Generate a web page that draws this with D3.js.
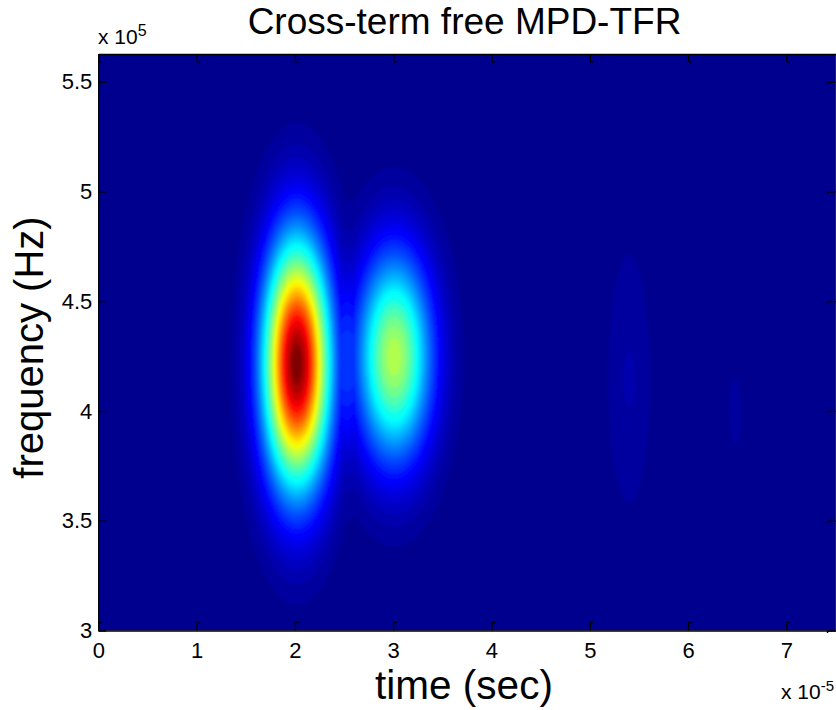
<!DOCTYPE html>
<html>
<head>
<meta charset="utf-8">
<script src="https://cdn.jsdelivr.net/npm/d3@7"></script>
<style>
  body { margin: 0; background: #fff; }
  text { font-family: "Liberation Sans", Arial, sans-serif; fill: #000; }
  .axis path.domain, .axis line, .hook { stroke: #000; stroke-width: 1.4; fill: none; }
  .axis text { font-size: 22px; }
</style>
</head>
<body>
<div id="d3-container"></div>
<script>
/* CONSTANTS AND GLOBALS */
const width = 836,
  height = 710,
  margin = { top: 54, bottom: 79.5, left: 98.3, right: 0.5 };

const xTicks = [0, 1, 2, 3, 4, 5, 6, 7];
const yTicks = [3, 3.5, 4, 4.5, 5, 5.5];

// 64 colour steps of the colormap: each ellipse is the outline of one step
const mainSteps = [1, 2, 3, 4, 5, 6, 7, 8, 9, 10, 11, 12, 13, 14, 15, 16, 17, 18, 19, 20, 21, 22, 23, 24, 26, 28, 30, 32, 34, 36, 38, 40, 42, 44, 46, 48, 50, 52, 54, 56, 58, 60, 62, 63];
const mainHalfFreq = [1.097, 1.002, 0.941, 0.896, 0.859, 0.828, 0.8, 0.776, 0.754, 0.733, 0.714, 0.696, 0.679, 0.663, 0.648, 0.633, 0.619, 0.606, 0.593, 0.58, 0.568, 0.556, 0.544, 0.533, 0.511, 0.489, 0.468, 0.448, 0.428, 0.408, 0.388, 0.369, 0.349, 0.329, 0.309, 0.289, 0.267, 0.245, 0.222, 0.197, 0.169, 0.137, 0.096, 0.068];

const secondSteps = [1, 2, 3, 4, 5, 6, 7, 8, 9, 10, 11, 12, 13, 14, 15, 16, 17, 18, 19, 20, 21, 22, 23, 24, 26, 28, 30, 32, 34];
const secondHalfFreq = [0.864, 0.775, 0.718, 0.675, 0.64, 0.609, 0.582, 0.557, 0.535, 0.514, 0.494, 0.475, 0.457, 0.44, 0.423, 0.406, 0.391, 0.375, 0.359, 0.344, 0.329, 0.314, 0.299, 0.283, 0.252, 0.219, 0.183, 0.141, 0.086];

// the valley between the two big blobs
const valleySteps = [1, 2, 3, 4, 5, 6, 7, 8, 9, 10];
const valleyHalfFreq = [0.733, 0.6, 0.52, 0.46, 0.41, 0.365, 0.32, 0.27, 0.21, 0.14];
const valleyHalfTime = [0.28, 0.25, 0.22, 0.2, 0.18, 0.16, 0.15, 0.14, 0.13, 0.12];

// the faint blobs on the right
const faintSteps = [1, 2];
const faintHalfFreq = [0.565, 0.125];
const faintHalfTime = [0.209, 0.061];
const smallSteps = [1];
const smallHalfFreq = [0.148];
const smallHalfTime = [0.064];

let ellipses = [];
function addBlob(time, freq, steps, halfFreq, halfTime) {
  steps.forEach((s, i) => ellipses.push({ time, freq, step: s, rf: halfFreq[i], rt: halfTime(i) }));
}
addBlob(2.02, 4.214, mainSteps, mainHalfFreq, i => mainHalfFreq[i] * 0.6124);
addBlob(3.01, 4.246, secondSteps, secondHalfFreq, i => secondHalfFreq[i] * 0.82);
addBlob(2.53, 4.228, valleySteps, valleyHalfFreq, i => valleyHalfTime[i]);
addBlob(5.4, 4.146, faintSteps, faintHalfFreq, i => faintHalfTime[i]);
addBlob(6.48, 4.0, smallSteps, smallHalfFreq, i => smallHalfTime[i]);

// low steps go first so higher ones paint on top
ellipses.sort((a, b) => a.step - b.step);

/* SCALES */
const xScale = d3.scaleLinear().domain([0, 7.5]).range([margin.left, width - margin.right]);
const yScale = d3.scaleLinear().domain([3, 5.626]).range([height - margin.bottom, margin.top]);
const colorScale = d3.scaleLinear()
  .domain([0, 7, 23, 39, 55, 63])
  .range(["#00008f", "#0000ff", "#00ffff", "#ffff00", "#ff0000", "#800000"]);

/* DRAW */
const svg = d3.select("#d3-container")
  .append("svg")
  .attr("width", width)
  .attr("height", height)
  .style("display", "block");

const defs = svg.append("defs");
defs.append("clipPath").attr("id", "plot-clip")
  .append("rect")
  .attr("x", margin.left)
  .attr("y", margin.top)
  .attr("width", width - margin.left - margin.right)
  .attr("height", height - margin.top - margin.bottom);
defs.append("filter").attr("id", "soft")
  .attr("filterUnits", "userSpaceOnUse")
  .attr("x", 0).attr("y", 0).attr("width", width).attr("height", height)
  .append("feGaussianBlur").attr("stdDeviation", 1.2);

svg.append("rect")
  .attr("x", margin.left)
  .attr("y", margin.top)
  .attr("width", width - margin.left - margin.right)
  .attr("height", height - margin.top - margin.bottom)
  .attr("fill", colorScale(0));

svg.append("g")
  .attr("clip-path", "url(#plot-clip)")
  .append("g")
  .attr("filter", "url(#soft)")
  .selectAll("ellipse")
  .data(ellipses)
  .join("ellipse")
  .attr("cx", d => xScale(d.time))
  .attr("cy", d => yScale(d.freq))
  .attr("rx", d => xScale(d.time + d.rt) - xScale(d.time))
  .attr("ry", d => yScale(d.freq) - yScale(d.freq + d.rf))
  .attr("fill", d => colorScale(d.step));

// + AXES
const tickLen = 8;
const bottomAxis = svg.append("g")
  .attr("class", "axis")
  .attr("transform", `translate(0,${height - margin.bottom})`)
  .call(d3.axisBottom(xScale).tickValues(xTicks).tickSize(-tickLen).tickSizeOuter(0).tickPadding(12));
const topAxis = svg.append("g")
  .attr("class", "axis")
  .attr("transform", `translate(0,${margin.top})`)
  .call(d3.axisTop(xScale).tickValues(xTicks).tickSize(-tickLen).tickSizeOuter(0).tickFormat(""));
const leftAxis = svg.append("g")
  .attr("class", "axis")
  .attr("transform", `translate(${margin.left},0)`)
  .call(d3.axisLeft(yScale).tickValues(yTicks).tickSize(-tickLen).tickSizeOuter(0).tickPadding(6).tickFormat(d => d));
const rightAxis = svg.append("g")
  .attr("class", "axis")
  .attr("transform", `translate(${width - margin.right},0)`)
  .call(d3.axisRight(yScale).tickValues(yTicks).tickSize(-tickLen).tickSizeOuter(0).tickFormat(""));

// the little hooks on the tick ends
bottomAxis.selectAll(".tick").append("path").attr("class", "hook").attr("d", `M0,${-tickLen}h3`);
topAxis.selectAll(".tick").append("path").attr("class", "hook").attr("d", `M0,${tickLen}h3`);
rightAxis.selectAll(".tick").append("path").attr("class", "hook").attr("d", `M${-tickLen},0v2`);

// + TEXT
svg.append("text")
  .attr("x", 464.5).attr("y", 34)
  .attr("text-anchor", "middle")
  .attr("font-size", 37)
  .text("Cross-term free MPD-TFR");

svg.append("text")
  .attr("x", 464).attr("y", 699)
  .attr("text-anchor", "middle")
  .attr("font-size", 40.5)
  .text("time (sec)");

svg.append("text")
  .attr("transform", "translate(42.5,347.5) rotate(-90)")
  .attr("text-anchor", "middle")
  .attr("font-size", 40)
  .text("frequency (Hz)");

const yExp = svg.append("text").attr("x", 98).attr("y", 43.5).attr("font-size", 21);
yExp.append("tspan").text("x 10");
yExp.append("tspan").attr("dy", -8).attr("font-size", 16).text("5");

const xExp = svg.append("text").attr("x", 781).attr("y", 699).attr("font-size", 21);
xExp.append("tspan").text("x 10");
xExp.append("tspan").attr("dy", -8).attr("font-size", 15).text("-5");
</script>
</body>
</html>
